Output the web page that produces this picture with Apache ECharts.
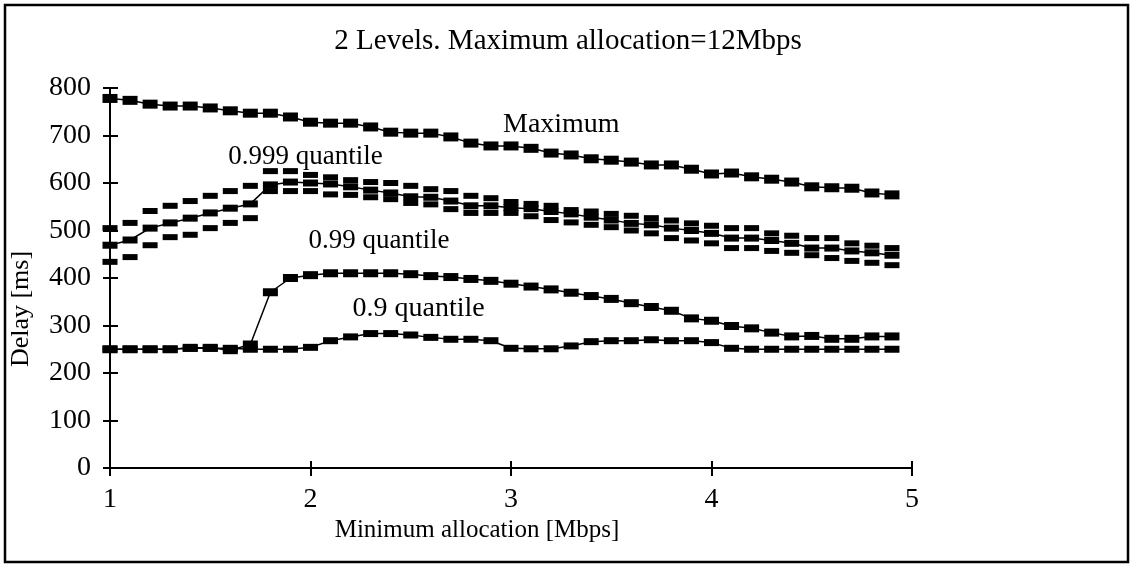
<!DOCTYPE html>
<html>
<head>
<meta charset="utf-8">
<script src="https://cdn.jsdelivr.net/npm/echarts@6/dist/echarts.min.js"></script>
<style>
  html, body { margin: 0; padding: 0; background: #fff; }
  #chart { width: 1136px; height: 567px; }
</style>
</head>
<body>
<div id="chart"></div>
<script>
// minimum allocation [Mbps]
var minAlloc = [1.0, 1.1, 1.2, 1.3, 1.4, 1.5, 1.6, 1.7, 1.8, 1.9,
                2.0, 2.1, 2.2, 2.3, 2.4, 2.5, 2.6, 2.7, 2.8, 2.9,
                3.0, 3.1, 3.2, 3.3, 3.4, 3.5, 3.6, 3.7, 3.8, 3.9,
                4.0, 4.1, 4.2, 4.3, 4.4, 4.5, 4.6, 4.7, 4.8, 4.9];

// delay [ms]
var maxDelay = [778, 774, 766, 762, 762, 758, 752, 747, 747, 739,
                728, 726, 726, 718, 707, 705, 705, 697, 684, 678,
                678, 673, 663, 659, 651, 648, 644, 638, 638, 629,
                619, 621, 613, 608, 602, 592, 590, 589, 579, 575];

var q999 = [469, 480, 505, 516, 526, 537, 547, 556, 596, 602,
            600, 598, 592, 585, 579, 571, 570, 562, 552, 552,
            548, 546, 540, 535, 528, 522, 515, 512, 505, 500,
            494, 484, 484, 479, 473, 463, 463, 457, 453, 448];
var q999Upper = [505, 516, 541, 552, 562, 573, 583, 594, 625, 625,
                 617, 612, 606, 602, 600, 594, 587, 583, 573, 568,
                 560, 556, 552, 543, 540, 535, 531, 526, 521, 515,
                 510, 505, 505, 494, 489, 484, 484, 473, 468, 463];
var q999Lower = [434, 444, 469, 486, 491, 505, 516, 526, 583, 583,
                 583, 576, 575, 570, 566, 558, 555, 545, 537, 537,
                 537, 530, 522, 517, 512, 507, 500, 494, 484, 479,
                 473, 463, 463, 457, 453, 448, 442, 436, 432, 427];

var q99 = [250, 250, 250, 250, 253, 253, 248, 260, 370, 400,
           406, 410, 410, 410, 410, 408, 404, 402, 398, 394,
           388, 382, 376, 369, 362, 356, 347, 339, 331, 315,
           310, 299, 294, 285, 277, 278, 272, 272, 277, 277];

var q9 = [250, 250, 250, 250, 252, 252, 252, 250, 250, 250,
          254, 268, 276, 283, 283, 280, 275, 271, 271, 268,
          252, 251, 251, 257, 266, 268, 268, 270, 268, 268,
          264, 252, 250, 250, 250, 250, 250, 250, 250, 250];

function pairs(ys) {
    return minAlloc.map(function (x, i) { return [x, ys[i]]; });
}

var font = 'Liberation Serif';
var chart = echarts.init(document.getElementById('chart'));

function lineSeries(name, ys, h) {
    return {
        name: name,
        type: 'line',
        data: pairs(ys),
        symbol: 'rect',
        symbolSize: [15, h],
        lineStyle: { color: '#000', width: 1.5 },
        itemStyle: { color: '#000', opacity: 1 },
        z: 3
    };
}
// confidence interval ends of the 0.999 quantile (not connected)
function dashSeries(name, ys) {
    return {
        name: name,
        type: 'scatter',
        data: pairs(ys),
        symbol: 'rect',
        symbolSize: [15, 6],
        itemStyle: { color: '#000', opacity: 1 },
        z: 2
    };
}

chart.setOption({
    animation: false,
    title: {
        text: '2 Levels. Maximum allocation=12Mbps',
        left: 'center',
        top: 22,
        textStyle: { fontFamily: font, fontSize: 29, fontWeight: 'normal', color: '#000' }
    },
    grid: { left: 110, right: 224, top: 88, bottom: 99 },
    xAxis: [{
        type: 'value', min: 1, max: 5, interval: 1,
        axisLine: { lineStyle: { color: '#000', width: 2 } },
        axisTick: { length: 8, lineStyle: { color: '#000', width: 2 } },
        axisLabel: { fontFamily: font, fontSize: 28, color: '#000', margin: 18 },
        splitLine: { show: false }
    }, {
        type: 'value', min: 1, max: 5, interval: 1, position: 'bottom',
        axisLine: { show: false },
        axisTick: { inside: true, length: 7, lineStyle: { color: '#000', width: 2 } },
        axisLabel: { show: false },
        splitLine: { show: false }
    }],
    yAxis: [{
        type: 'value', min: 0, max: 800, interval: 100,
        axisLine: { show: true, lineStyle: { color: '#000', width: 2 } },
        axisTick: { show: true, length: 7, lineStyle: { color: '#000', width: 2 } },
        axisLabel: { fontFamily: font, fontSize: 28, color: '#000', margin: 19 },
        splitLine: { show: false }
    }, {
        type: 'value', min: 0, max: 800, interval: 100, position: 'left',
        axisLine: { show: false },
        axisTick: { show: true, inside: true, length: 8, lineStyle: { color: '#000', width: 2 } },
        axisLabel: { show: false },
        splitLine: { show: false }
    }],
    series: [
        lineSeries('Maximum', maxDelay, 9),
        dashSeries('0.999 upper', q999Upper),
        dashSeries('0.999 lower', q999Lower),
        lineSeries('0.999 quantile', q999, 7),
        lineSeries('0.99 quantile', q99, 8),
        lineSeries('0.9 quantile', q9, 7)
    ]
});

// series labels placed in data coordinates
var labels = [
    { text: 'Maximum', at: [2.96, 722], size: 28 },
    { text: '0.999 quantile', at: [1.59, 655], size: 27 },
    { text: '0.99 quantile', at: [1.99, 478], size: 27 },
    { text: '0.9 quantile', at: [2.21, 335], size: 28 }
];
var graphics = [{
    type: 'rect',
    shape: { x: 5, y: 5, width: 1123, height: 557 },
    style: { fill: 'none', stroke: '#000', lineWidth: 2.5 },
    silent: true
}, {
    type: 'text',
    x: 477, y: 530,
    style: { text: 'Minimum allocation [Mbps]', fontFamily: font, fontSize: 25, fill: '#000',
             textAlign: 'center', textVerticalAlign: 'middle' }
}, {
    type: 'text',
    x: 21, y: 309, rotation: Math.PI / 2,
    style: { text: 'Delay [ms]', fontFamily: font, fontSize: 26, fill: '#000',
             textAlign: 'center', textVerticalAlign: 'middle' }
}];
labels.forEach(function (l) {
    var p = chart.convertToPixel({ xAxisIndex: 0, yAxisIndex: 0 }, l.at);
    graphics.push({
        type: 'text',
        x: p[0], y: p[1],
        style: { text: l.text, fontFamily: font, fontSize: l.size, fill: '#000',
                 textAlign: 'left', textVerticalAlign: 'middle' },
        z: 10
    });
});
chart.setOption({ graphic: graphics });
</script>
</body>
</html>
